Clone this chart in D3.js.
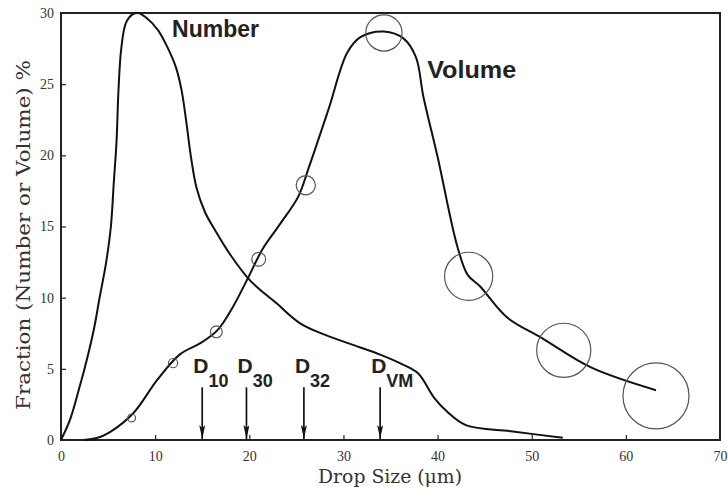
<!DOCTYPE html>
<html lang="en">
<head>
<meta charset="utf-8"/>
<title>Drop size distribution</title>
<script src="https://d3js.org/d3.v7.min.js"></script>
<style>
	body { margin: 0; background: #fff; }
	.tick text { font-family: "Liberation Serif", serif; font-size: 14px; fill: #333; }
	.tick line { stroke: #222; stroke-width: 1.2px; }
	.curve { fill: none; stroke: #111; stroke-width: 2px; }
	.marker { fill: none; stroke: #555; stroke-width: 1.2px; }
	.lbl { font-family: Arial, "Liberation Sans", sans-serif; font-weight: bold; fill: #222; }
	.title { font-family: "DejaVu Serif", serif; fill: #333; }
</style>
</head>
<body>
<svg id="chart" width="728" height="489"></svg>
<script>
// Number distribution (drop size um, fraction %)
var numX = [0, 1, 2, 2.5, 3.5, 4.1, 4.8, 5.3, 5.6, 5.9, 6.1, 6.4, 6.9, 7.6, 8.2, 9, 10.3, 11.3, 12.2, 12.8, 13.3, 13.8, 14.4, 15.3, 16.4, 18, 20.1, 22.9, 25.4, 28, 31.8, 33.9, 36, 37.9, 39.6, 41, 43, 48, 53.3];
var numY = [0, 1.5, 3.8, 5, 7.8, 10, 12.5, 15, 18, 21, 24.5, 27.5, 29.3, 29.9, 30, 29.7, 28.8, 27.6, 26.2, 24.6, 22.4, 19.9, 17.7, 16.0, 14.7, 13.0, 11.2, 9.6, 8.2, 7.4, 6.5, 6.0, 5.4, 4.7, 3.0, 2.0, 1.05, 0.6, 0.15];

// Volume distribution
var volX = [2.4, 3.8, 5.2, 7.7, 10.2, 12.6, 14.8, 16.6, 18.3, 19.8, 21.4, 23.3, 25.2, 26.3, 28.4, 30.4, 31.8, 34.3, 36.4, 37.7, 38.5, 40, 42.1, 43.2, 44.5, 47.4, 51, 56.3, 63.2];
var volY = [0, 0.14, 0.56, 1.9, 4.2, 6.0, 6.8, 7.7, 9.4, 11.3, 13.4, 15.2, 17.1, 19.1, 23.2, 27.2, 28.3, 28.7, 28.2, 26.9, 24.1, 19.9, 13.6, 11.6, 10.8, 8.6, 7.2, 5.1, 3.5];

// measured points (open circles), marker weight grows with drop size
var ptX = [7.5, 11.9, 16.5, 21, 26, 34.3, 43.3, 53.4, 63.2];
var ptY = [1.55, 5.4, 7.6, 12.7, 17.9, 28.6, 11.5, 6.3, 3.1];
var ptW = [0.12, 0.14, 0.18, 0.21, 0.29, 0.55, 0.73, 0.82, 1];

// characteristic diameters
var dVal = [15, 19.7, 25.8, 33.9];
var dSub = ["10", "30", "32", "VM"];

var xTicks = [0, 10, 20, 30, 40, 50, 60, 70];
var yTicks = [0, 5, 10, 15, 20, 25, 30];

var margin = {top: 13, right: 8, bottom: 49, left: 61},
	width = 728 - margin.left - margin.right,
	height = 489 - margin.top - margin.bottom;

var svg = d3.select("#chart");
var g = svg.append("g").attr("transform", "translate(" + margin.left + "," + margin.top + ")");

var x = d3.scaleLinear().domain([0, 70]).range([0, width]);
var y = d3.scaleLinear().domain([0, 30]).range([height, 0]);
var r = d3.scaleLinear().domain([0, 1]).range([0, 33]);

// arrow head, drawn along +x so orient="auto" turns it down the line
svg.append("defs").append("marker")
	.attr("id", "arrow")
	.attr("viewBox", "0 0 14 6")
	.attr("refX", 14).attr("refY", 3)
	.attr("markerWidth", 14).attr("markerHeight", 6)
	.attr("markerUnits", "userSpaceOnUse")
	.attr("orient", "auto")
	.append("path")
	.attr("d", "M0,0 L14,3 L0,6 L3,3 Z")
	.attr("fill", "#111");

// axes (inward ticks)
var xAxis = g.append("g")
	.attr("transform", "translate(0," + height + ")")
	.call(d3.axisBottom(x).tickValues(xTicks).tickSize(-5).tickPadding(11));
xAxis.select(".domain").remove();
xAxis.selectAll(".tick").filter(function(d) { return d === 0 || d === 70; }).select("line").remove();

var yAxis = g.append("g")
	.call(d3.axisLeft(y).tickValues(yTicks).tickSize(-5).tickPadding(7));
yAxis.select(".domain").remove();
yAxis.selectAll(".tick").filter(function(d) { return d === 0 || d === 30; }).select("line").remove();

// frame
g.append("rect")
	.attr("width", width).attr("height", height)
	.attr("fill", "none").attr("stroke", "#222").attr("stroke-width", 2);

// axis titles
svg.append("text")
	.attr("class", "title")
	.attr("transform", "translate(30," + (margin.top + 222) + ") rotate(-90)")
	.attr("text-anchor", "middle")
	.attr("textLength", 350)
	.attr("lengthAdjust", "spacingAndGlyphs")
	.style("font-size", "19px")
	.text("Fraction (Number or Volume) %");

svg.append("text")
	.attr("class", "title")
	.attr("x", 390)
	.attr("y", 483)
	.attr("text-anchor", "middle")
	.attr("textLength", 144)
	.attr("lengthAdjust", "spacingAndGlyphs")
	.style("font-size", "18px")
	.text("Drop Size (\u03bcm)");

var line = d3.line()
	.x(function(d) { return x(d[0]); })
	.y(function(d) { return y(d[1]); })
	.curve(d3.curveCatmullRom.alpha(0.5));

g.append("path").attr("class", "curve").attr("d", line(d3.zip(numX, numY)));
g.append("path").attr("class", "curve").attr("d", line(d3.zip(volX, volY)));

g.selectAll(".marker")
	.data(d3.zip(ptX, ptY, ptW))
	.enter().append("circle")
	.attr("class", "marker")
	.attr("cx", function(d) { return x(d[0]); })
	.attr("cy", function(d) { return y(d[1]); })
	.attr("r", function(d) { return r(d[2]); });

// series labels
g.append("text").attr("class", "lbl").attr("x", x(11.8)).attr("y", y(28.3))
	.style("font-size", "23px").text("Number");
g.append("text").attr("class", "lbl").attr("x", x(38.9)).attr("y", y(25.4))
	.attr("textLength", 89).attr("lengthAdjust", "spacingAndGlyphs")
	.style("font-size", "23px").text("Volume");

// D arrows and labels
var dm = g.selectAll(".dmark")
	.data(d3.zip(dVal, dSub))
	.enter().append("g").attr("class", "dmark");

dm.append("line")
	.attr("x1", function(d) { return x(d[0]); })
	.attr("x2", function(d) { return x(d[0]); })
	.attr("y1", y(3.7))
	.attr("y2", y(0) - 1)
	.attr("stroke", "#111").attr("stroke-width", 1.7)
	.attr("marker-end", "url(#arrow)");

var dt = dm.append("text").attr("class", "lbl")
	.attr("x", function(d) { return x(d[0]) - 9; })
	.attr("y", y(4.7))
	.style("font-size", "21px");
dt.append("tspan").text("D");
dt.append("tspan").attr("dy", 14).style("font-size", "18px").text(function(d) { return d[1]; });
</script>
</body>
</html>
